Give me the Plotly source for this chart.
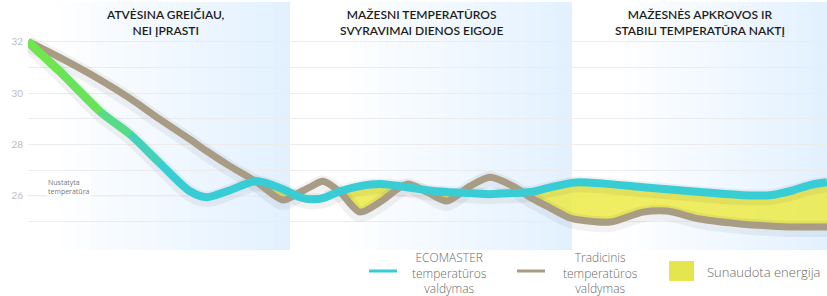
import plotly.graph_objects as go

# ---- data (x in time units along the day, temperatures in °C) ----
time_pts = [0, 32, 72, 102, 132, 162, 179, 199, 229, 255, 272, 282, 295, 312, 332, 352,
            379, 399, 419, 442, 462, 485, 502, 519, 542, 552, 582, 615, 639, 672, 715,
            742, 765, 782, 799]
ecomaster = [32.00, 30.83, 29.28, 28.39, 27.26, 26.17, 25.94, 26.17, 26.56, 26.25, 25.94,
             25.86, 25.90, 26.17, 26.37, 26.45, 26.33, 26.21, 26.14, 26.10, 26.06, 26.10,
             26.14, 26.29, 26.49, 26.52, 26.45, 26.33, 26.25, 26.14, 26.02, 26.02, 26.21,
             26.41, 26.52]
traditional = [32.00, 31.38, 30.52, 29.79, 28.97, 28.19, 27.73, 27.22, 26.52, 25.83, 26.14,
               26.33, 26.56, 26.14, 25.36, 25.75, 26.45, 26.14, 25.79, 26.37, 26.72, 26.37,
               25.94, 25.59, 25.13, 25.05, 24.97, 25.36, 25.40, 25.09, 24.89, 24.82, 24.78,
               24.78, 24.78]
set_temp = 26
y_ticks = [25, 26, 27, 28, 29, 30, 31, 32]
y_tick_text = ["", "26", "", "28", "", "30", "", "32"]
section_titles = ["ATVĖSINA GREIČIAU,<br>NEI ĮPRASTI",
                  "MAŽESNI TEMPERATŪROS<br>SVYRAVIMAI DIENOS EIGOJE",
                  "MAŽESNĖS APKROVOS IR<br>STABILI TEMPERATŪRA NAKTĮ"]
legend_ecomaster = ["ECOMASTER", "temperatūros", "valdymas"]
legend_traditional = ["Tradicinis", "temperatūros", "valdymas"]
legend_energy = "Sunaudota energija"

# ---- layout geometry ----
W, H = 827, 296
L, R, T, B = 28, 0, 16, 49
PW, PH = W - L - R, H - T - B

def px(x):
    return (x - L) / PW

def py(y):
    return (H - B - y) / PH

CYAN = "#38cdd5"
TAN = "#a99c85"

fig = go.Figure()

# energy fill: between traditional (below) and ECOMASTER (above)
upper = [max(a, b) for a, b in zip(ecomaster, traditional)]
fig.add_trace(go.Scatter(x=time_pts, y=traditional, mode="lines",
                         line=dict(width=0, shape="spline", smoothing=0.8),
                         hoverinfo="skip", showlegend=False))
fig.add_trace(go.Scatter(x=time_pts, y=upper, mode="lines", fill="tonexty",
                         fillcolor="rgba(236,234,70,0.85)",
                         line=dict(width=0, shape="spline", smoothing=0.8),
                         hoverinfo="skip", showlegend=False))

# soft shadows
for series in (traditional, ecomaster):
    fig.add_trace(go.Scatter(x=time_pts, y=[v - 0.08 for v in series], mode="lines",
                             line=dict(color="rgba(0,0,0,0.05)", width=16, shape="spline", smoothing=0.8),
                             hoverinfo="skip", showlegend=False))

fig.add_trace(go.Scatter(x=time_pts, y=traditional, mode="lines", name="Tradicinis",
                         line=dict(color=TAN, width=7, shape="spline", smoothing=0.8),
                         showlegend=False))
fig.add_trace(go.Scatter(x=time_pts, y=ecomaster, mode="lines", name="ECOMASTER",
                         line=dict(color=CYAN, width=8, shape="spline", smoothing=0.8),
                         showlegend=False))
# green start of the ECOMASTER line (fading)
for n, alpha in ((5, 0.2), (4, 0.45), (3, 0.8), (2, 1.0)):
    fig.add_trace(go.Scatter(x=time_pts[:n], y=ecomaster[:n], mode="lines",
                             line=dict(color=f"rgba(110,230,76,{alpha})", width=8,
                                       shape="spline", smoothing=0.8),
                             hoverinfo="skip", showlegend=False))

shapes = []
# background gradient bands
bands = [(0, 290), (290, 572), (572, 827)]
N = 14
for a, b in bands:
    for k in range(N):
        x0 = a + (b - a) * (0.2 + 0.8 * k / N)
        shapes.append(dict(type="rect", xref="paper", yref="paper",
                           x0=px(x0), x1=px(b), y0=py(250), y1=py(2),
                           fillcolor="rgba(172,228,240,0.029)", line=dict(width=0),
                           layer="below"))
# set temperature line
shapes.append(dict(type="line", xref="paper", yref="y", x0=0, x1=1, y0=set_temp, y1=set_temp,
                   line=dict(color="rgba(235,170,180,0.55)", width=1), layer="below"))

# legend
shapes.append(dict(type="line", xref="paper", yref="paper", x0=px(369), x1=px(397),
                   y0=py(271), y1=py(271), line=dict(color=CYAN, width=3)))
shapes.append(dict(type="line", xref="paper", yref="paper", x0=px(517), x1=px(545),
                   y0=py(271), y1=py(271), line=dict(color=TAN, width=3)))
shapes.append(dict(type="rect", xref="paper", yref="paper", x0=px(669), x1=px(694),
                   y0=py(281), y1=py(261), fillcolor="#e6e54e", line=dict(width=0)))

annotations = []
for cx, txt in zip([165, 421, 700], section_titles):
    annotations.append(dict(x=px(cx), y=py(23), xref="paper", yref="paper", text=txt,
                            showarrow=False, align="center", xanchor="center", yanchor="middle",
                            font=dict(family="Lato", size=12, color="#1c1c1c", weight=600)))
annotations.append(dict(x=px(46), y=set_temp + 0.35, xref="paper", yref="y",
                        text="Nustatyta<br>temperatūra", showarrow=False, align="left",
                        xanchor="left", yanchor="middle", bgcolor="rgba(255,255,255,0.85)",
                        font=dict(family="Open Sans", size=7, color="#777777")))
legend_font = dict(family="Open Sans", size=12, color="#6a6a6a", weight=300)
for cx, lines in ((450, legend_ecomaster), (600, legend_traditional)):
    annotations.append(dict(x=px(cx), y=py(272.5), xref="paper", yref="paper",
                            text="<br>".join(lines), showarrow=False, align="center",
                            xanchor="center", yanchor="middle", font=legend_font))
annotations.append(dict(x=px(705), y=py(272), xref="paper", yref="paper", text=legend_energy,
                        showarrow=False, xanchor="left", yanchor="middle",
                        font=dict(family="Open Sans", size=13, color="#6a6a6a", weight=300)))

fig.update_layout(
    width=W, height=H, margin=dict(l=L, r=R, t=T, b=B, autoexpand=False),
    paper_bgcolor="white", plot_bgcolor="rgba(0,0,0,0)",
    shapes=shapes, annotations=annotations, showlegend=False,
    xaxis=dict(range=[0, 799], visible=False, fixedrange=True, automargin=False),
    yaxis=dict(range=[24, 33], tickvals=y_ticks, ticktext=y_tick_text, automargin=False,
               showgrid=True, gridcolor="#ececec", gridwidth=1, zeroline=False,
               showline=False, ticks="", ticklen=0, ticklabelstandoff=4,
               tickfont=dict(family="Lato", size=10, color="#bdbdbd")),
)

fig.write_html("out.html", config={"displayModeBar": False},
               post_script="document.body.style.margin='0';")
